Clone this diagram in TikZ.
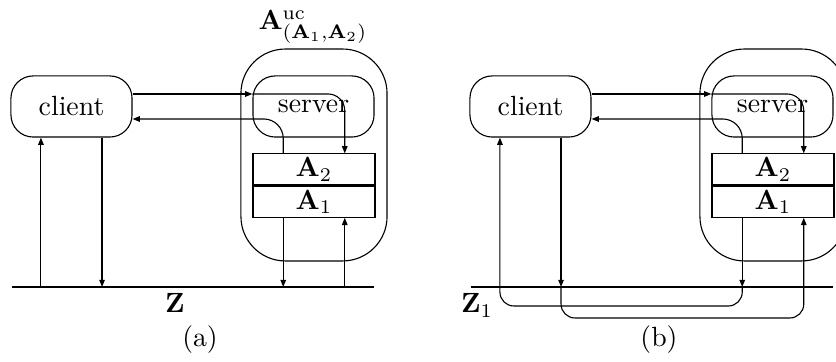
\documentclass[tikz,border=0pt]{standalone}
\usetikzlibrary{arrows.meta,calc,positioning}

\tikzset{
  box/.style={draw, rounded corners=8pt, minimum width=43.6pt, minimum height=22pt, inner sep=0pt},
  hull/.style={draw, rounded corners=16pt, minimum width=52.6pt, minimum height=76.3pt, inner sep=0pt},
  layer/.style={draw, minimum width=43.9pt, minimum height=11.2pt, inner sep=0pt},
  msg/.style={-{Triangle[length=2.6pt,width=2pt]}, line width=0.4pt},
  wire/.style={line width=0.9pt},
}

\begin{document}
\begin{tikzpicture}[x=3.6pt,y=3.6pt]
\useasboundingbox (0,0) rectangle (83.6,36.2);

% the two panels share boxes and the client/server links
\foreach \p/\dx in {a/0,b/45.9}{
\begin{scope}[shift={(\dx,0)}]
\node[hull] (u\p) at (31.4,20.7) {};
\node[box] (c\p) at (7.15,25.55) {client};
\node[box] (s\p) at (31.35,25.55) {server};
\node[layer] (t\p) at (31.4,19.25) {$\mathbf{A}_2$};
\node[layer, below=0pt of t\p] (b\p) {$\mathbf{A}_1$};
\draw[line width=0.8pt] (t\p.south west) -- (t\p.south east);

\coordinate (z\p) at (0,7.5);
\draw[wire] ($(z\p)+(1.2,0)$) -- ($(z\p)+(37.4,0)$);
\node (cap\p) at (20,2.25) {(\p)};

\coordinate (cr\p) at ([yshift=4.5pt]c\p.east);
\coordinate (cl\p) at ([yshift=-4.5pt]c\p.east);
\coordinate (tr\p) at ($(t\p.north)!.5!(t\p.north east)$);
\coordinate (tl\p) at ($(t\p.north)!.5!(t\p.north west)$);
\coordinate (cw\p) at ($(c\p.south)!.5!(c\p.south west)$);
\coordinate (ce\p) at ($(c\p.south)!.5!(c\p.south east)$);
\coordinate (bw\p) at ($(b\p.south)!.5!(b\p.south west)$);
\coordinate (be\p) at ($(b\p.south)!.5!(b\p.south east)$);

\draw[msg] (cr\p) -- (cr\p -| s\p.west);
\draw[msg, rounded corners=6pt] (cr\p -| s\p.west) -- (cr\p -| tr\p) -- (tr\p);
\draw[msg, rounded corners=7pt] (tl\p) -- (tl\p |- cl\p) -- (cl\p);
\end{scope}
}

\node[anchor=base] (ucl) at (31.3,33.2) {$\mathbf{A}^{\mathrm{uc}}_{(\mathbf{A}_1,\mathbf{A}_2)}$};
\node[anchor=base] (zla) at (17.5,4.9) {$\mathbf{Z}$};
\node[anchor=base] (zlb) at (47.7,4.9) {$\mathbf{Z}_1$};

% (a): everything meets on Z
\draw[msg] (cea) -- (cea |- za);
\draw[msg] (cwa |- za) -- (cwa);
\draw[msg] (bwa) -- (bwa |- za);
\draw[msg] (bea |- za) -- (bea);

% (b): links pass under Z_1
\draw[msg] (bwb) -- (bwb |- zb);
\draw[msg, rounded corners=5pt] (bwb |- zb) -- ++(0,-1.9) -| (cwb);
\draw[msg] (ceb) -- (ceb |- zb);
\draw[msg, rounded corners=5pt] (ceb |- zb) -- ++(0,-3.1) -| (beb);
\end{tikzpicture}
\end{document}
